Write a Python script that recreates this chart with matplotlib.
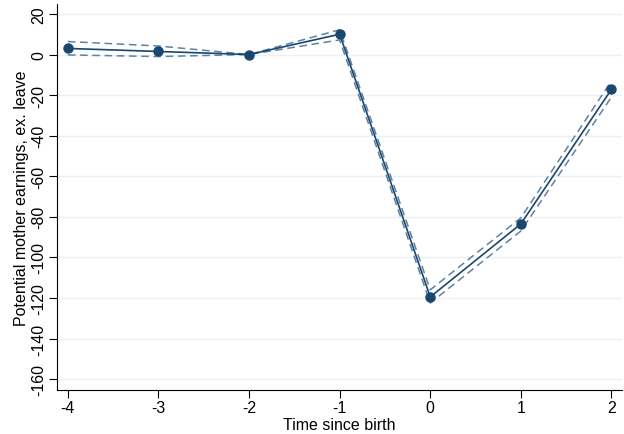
import numpy as np
import matplotlib.pyplot as plt

plt.rcParams['font.family'] = ['Liberation Sans', 'DejaVu Sans']

t = [-4, -3, -2, -1, 0, 1, 2]
est = [3, 1.5, 0, 10, -119.5, -83.5, -17.2]
upper = [6.4, 4.2, 0, 12.2, -116, -80.5, -13]
lower = [-0.2, -1.0, 0, 7.2, -122.5, -87, -21]

navy = '#1a476f'

fig = plt.figure(figsize=(6.24, 4.35), dpi=100)
ax = fig.add_axes([0.0913, 0.101, 0.906, 0.8875])

ax.plot(t, upper, color='#5f81a2', linestyle=(0, (5, 3)), linewidth=1.1)
ax.plot(t, lower, color='#5f81a2', linestyle=(0, (5, 3)), linewidth=1.1)
ax.plot(t, est, color=navy, linewidth=1.2, marker='o', markersize=6.5)

ax.set_xlim(-4.12, 2.12)
ax.set_ylim(-165.4, 24.9)
ax.set_xticks(t)
ax.set_xticklabels([str(v) for v in t])
ax.set_yticks(np.arange(-160, 21, 20))
ax.set_yticklabels([str(v) for v in np.arange(-160, 21, 20)], rotation=90, va='center')
ax.grid(axis='y', color='#eaf2f3', linewidth=1)
ax.set_axisbelow(True)
for s in ['top', 'right']:
    ax.spines[s].set_visible(False)
ax.tick_params(labelsize=11.5, length=5.5, pad=2)
ax.set_xlabel('Time since birth', fontsize=11.5, labelpad=1)
ax.set_ylabel('Potential mother earnings, ex. leave', fontsize=11.5, labelpad=2)

plt.savefig('out.png', dpi=100)
